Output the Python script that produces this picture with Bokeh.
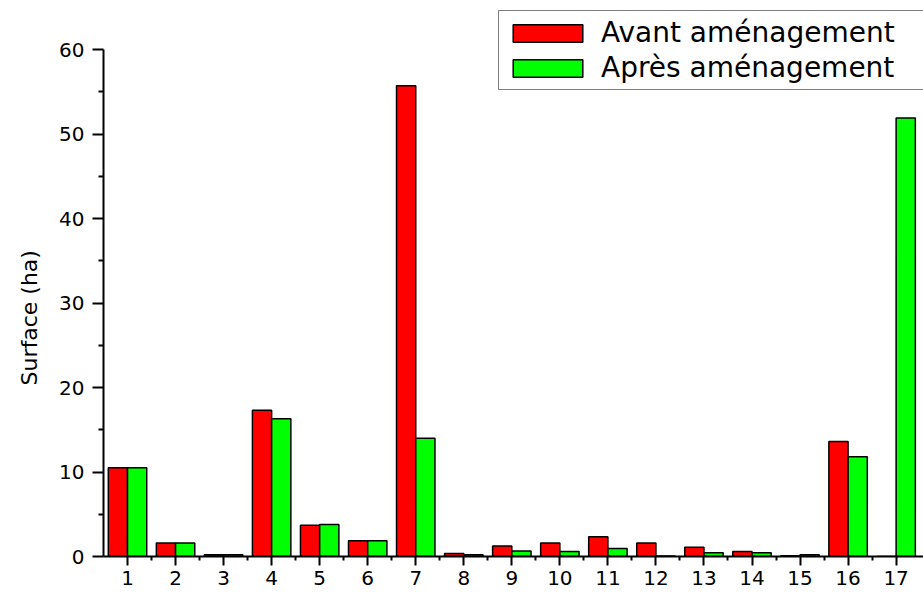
from bokeh.plotting import figure
from bokeh.models import ColumnDataSource, FixedTicker, Range1d, Legend, LegendItem, Title
from bokeh.transform import dodge
from bokeh.embed import file_html
from bokeh.resources import INLINE

# ---- data ----
sites = list(range(1, 18))
avant = [10.5, 1.6, 0.2, 17.3, 3.7, 1.85, 55.7, 0.35, 1.25, 1.6, 2.35, 1.6, 1.1, 0.6, 0.1, 13.6, 0.0]
apres = [10.5, 1.6, 0.2, 16.3, 3.8, 1.85, 14.0, 0.2, 0.65, 0.6, 0.95, 0.05, 0.45, 0.45, 0.2, 11.8, 51.9]
y_ticks = [0, 10, 20, 30, 40, 50, 60]
y_minor = [5, 15, 25, 35, 45, 55]
x_minor = [s + 0.5 for s in sites[:-1]]
series_names = ["Avant aménagement", "Après aménagement"]
y_title = "Surface (ha)"
colors = ["#FF0000", "#00FF00"]

src = ColumnDataSource(dict(site=sites, avant=avant, apres=apres))

FONT = "DejaVu Sans"

p = figure(width=923, height=594, output_backend="svg", toolbar_location=None,
           x_range=Range1d(0.5, 17.57), y_range=Range1d(0, 65.8),
           min_border_left=102, min_border_top=0, min_border_bottom=38, min_border_right=0)
p.background_fill_color = "white"
p.border_fill_color = "white"
p.outline_line_color = None
p.xgrid.visible = False
p.ygrid.visible = False

r1 = p.vbar(x=dodge("site", -0.2), top="avant", width=0.4, source=src,
            fill_color=colors[0], line_color="black", line_width=1.5)
r2 = p.vbar(x=dodge("site", 0.2), top="apres", width=0.4, source=src,
            fill_color=colors[1], line_color="black", line_width=1.5)

# axes
p.yaxis.ticker = FixedTicker(ticks=y_ticks, minor_ticks=y_minor)
p.yaxis.bounds = (y_ticks[0], y_ticks[-1])
p.xaxis.ticker = FixedTicker(ticks=sites, minor_ticks=x_minor)
for ax in (p.xaxis[0], p.yaxis[0]):
    ax.axis_line_color = "black"
    ax.axis_line_width = 2
    ax.major_tick_line_color = "black"
    ax.major_tick_line_width = 2
    ax.minor_tick_line_color = "black"
    ax.minor_tick_line_width = 2
    ax.major_tick_in = 0
    ax.minor_tick_in = 0
    ax.major_label_text_font = FONT
    ax.major_label_text_font_size = "20px"
    ax.major_label_text_color = "black"

p.yaxis.major_tick_out = 11
p.yaxis.minor_tick_out = 5
p.yaxis.major_label_standoff = 8
p.xaxis.major_tick_out = 9
p.xaxis.minor_tick_out = 4
p.xaxis.major_label_standoff = 5

# y-axis title as a side Title (so it can sit where the reference has it)
t = Title(text=y_title, align="left", offset=171, standoff=29,
          text_font=FONT, text_font_size="22px", text_font_style="normal",
          text_color="black")
p.add_layout(t, "left")

legend = Legend(items=[LegendItem(label=series_names[0], renderers=[r1]),
                       LegendItem(label=series_names[1], renderers=[r2])],
                location=(395, 466))
legend.label_text_font = FONT
legend.label_text_font_size = "28px"
legend.label_text_color = "black"
legend.glyph_width = 87
legend.glyph_height = 22
legend.label_height = 22
legend.label_width = 330
legend.label_standoff = 10
legend.spacing = 2
legend.padding = 5
legend.margin = 0
legend.border_line_color = "black"
legend.border_line_width = 1.5
legend.background_fill_color = "white"
legend.background_fill_alpha = 1.0
p.add_layout(legend, "center")

open("out.html", "w").write(file_html(p, INLINE))
